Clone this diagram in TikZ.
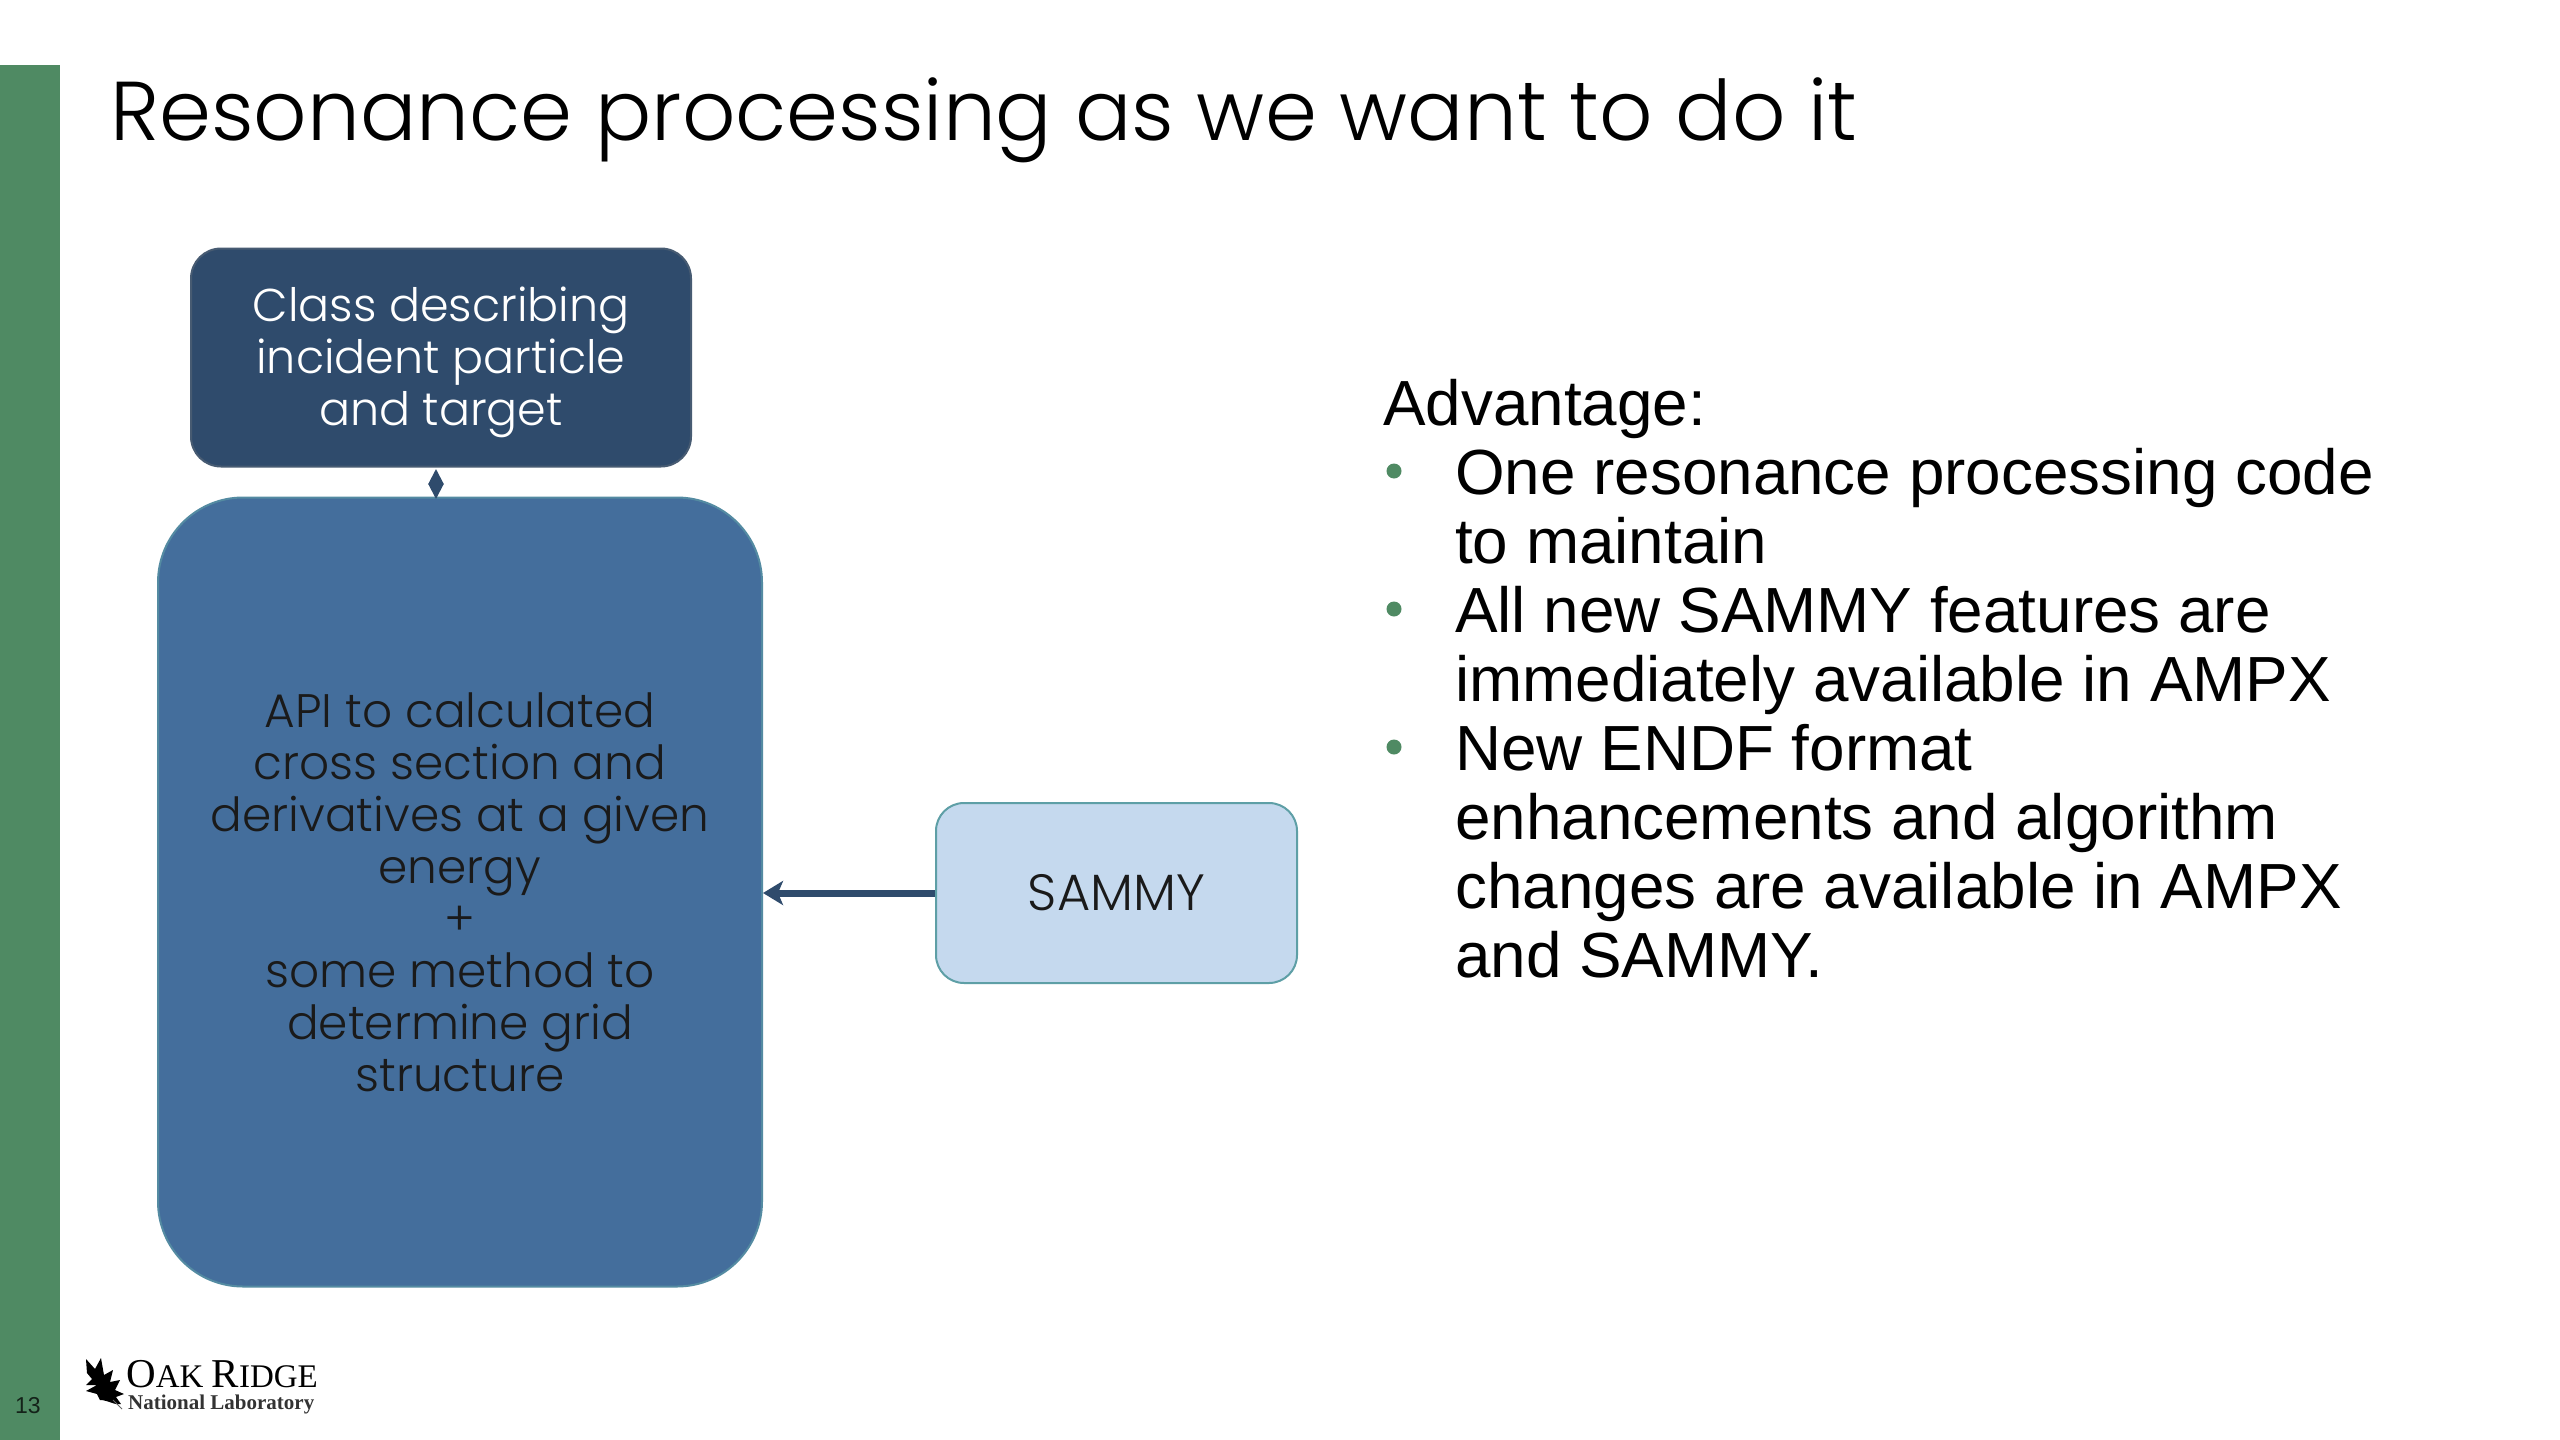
\documentclass[tikz,border=0pt]{standalone}
\usepackage{fontspec}
\setmainfont{Liberation Sans}
\newfontfamily\geo{Poppins Light}
\newfontfamily\logoserif{Liberation Serif}
\usetikzlibrary{arrows.meta}
\definecolor{barg}{HTML}{4F8A63}
\definecolor{darkb}{HTML}{2F4B6C}
\definecolor{midb}{HTML}{446E9C}
\definecolor{lightb}{HTML}{C5D9EE}
\definecolor{teale}{HTML}{5E9FA6}
\definecolor{ink}{HTML}{1A1A1A}
\tikzset{
  x=1pt,y=-1pt,
  boxstyle/.style={draw,rounded corners=#1,line width=2pt,align=center,inner sep=0pt,font=\geo\fontsize{47}{52}\selectfont},
  conn/.style={draw=darkb,line width=7pt,-{Stealth[length=20pt,width=24pt,inset=5pt]}},
  bodytext/.style={anchor=north west,inner sep=0pt,text=black,font=\fontsize{63.8}{69}\selectfont,align=left},
  dotted bullet/.style={circle,fill=barg,inner sep=0pt,minimum size=15pt},
}
\begin{document}
\begin{tikzpicture}
\useasboundingbox (0,0) rectangle (2560,1440);
\fill[white] (0,0) rectangle (2560,1440);
\fill[barg] (0,65) rectangle (60,1440);
\node[anchor=base west,inner sep=0pt,font=\geo\fontsize{83.5}{100}\selectfont,text=black] (title) at (110,140) {Resonance processing as we want to do it};

\node[boxstyle=30pt,fill=darkb,draw=darkb!70!gray,text=white,minimum width=500pt,minimum height=218pt,font=\geo\fontsize{46}{52}\selectfont] (cls) at (441,357.5) {\rule{0pt}{44pt}Class describing\\incident particle\\and target};
\node[boxstyle=85pt,fill=midb,draw=teale!60!midb,text=ink,minimum width=604pt,minimum height=789pt] (api) at (460,892) {API to calculated\\cross section and\\derivatives at a given\\energy\\+\\some method to\\determine grid\\structure};
\node[boxstyle=28pt,fill=lightb,draw=teale,text=ink,minimum width=361pt,minimum height=180pt,font=\geo\fontsize{51}{56}\selectfont] (sammy) at (1116.5,893) {SAMMY};

\coordinate (capi) at (436,499);
\coordinate (ccls) at (436,469);
\draw[draw=darkb,fill=darkb,line width=2pt,{Triangle[length=15pt,width=15pt]}-{Triangle[length=15pt,width=15pt]}] (ccls) -- (capi);
\draw[conn] (sammy.west) -- (api.east |- sammy.west);

\node[bodytext] (adv) at (1383,379) {Advantage:};
\node[bodytext] (b1) at (1455,448) {One resonance processing code\\to maintain};
\node[bodytext] (b2) at (1455,586) {All new SAMMY features are\\immediately available in AMPX};
\node[bodytext] (b3) at (1455,724) {New ENDF format\\enhancements and algorithm\\changes are available in AMPX\\and SAMMY.};
\node[dotted bullet] (d1) at (1394,471) {};
\node[dotted bullet] (d2) at (1394,609) {};
\node[dotted bullet] (d3) at (1394,747) {};

\node[anchor=base,inner sep=0pt,text=black!75!barg,font=\fontsize{23}{26}\selectfont] (page) at (28,1413) {13};
% oak leaf
\begin{scope}[shift={(0,-2)}]
\fill[black] (100,1402) .. controls (108,1402) and (116,1408) .. (121,1406) -- (116,1399) -- (124,1396) -- (115,1392) -- (120,1382) -- (110,1384) -- (113,1372) -- (104,1377) -- (101,1360) -- (95,1371) -- (86,1361) -- (87,1375) -- (92,1381) -- (86,1387) -- (97,1387) -- (86,1393) -- (97,1396) -- cycle;
\draw[black!60,line width=1pt] (113,1402) -- (122,1411);
\end{scope}
\node[anchor=base west,inner sep=0pt,font=\logoserif\fontsize{41}{41}\selectfont,text=black] (oak) at (126,1387) {O\fontsize{33}{33}\selectfont AK \fontsize{41}{41}\selectfont R\fontsize{33}{33}\selectfont IDGE};
\node[anchor=base west,inner sep=0pt,font=\logoserif\fontsize{21}{21}\selectfont\bfseries,text=black!80] (natl) at (128,1409) {National Laboratory};
\end{tikzpicture}
\end{document}
